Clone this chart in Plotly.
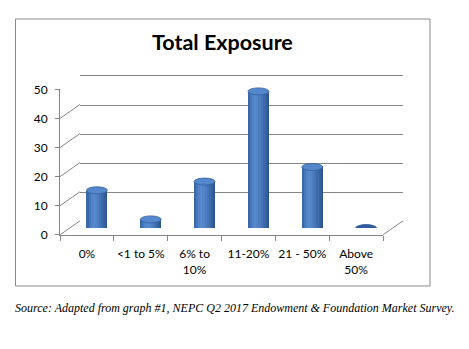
import plotly.graph_objects as go

# ---- data ----
categories = ["0%", "<1 to 5%", "6% to 10%", "11-20%", "21 - 50%", "Above 50%"]
tick_labels = ["0%", "<1 to 5%", "6% to<br>10%", "11-20%", "21 - 50%", "Above<br>50%"]
values = [13, 3, 16, 47, 21, 0]
y_ticks = [0, 10, 20, 30, 40, 50]
title_text = "Total Exposure"
source_text = "Source: Adapted from graph #1, NEPC Q2 2017 Endowment & Foundation Market Survey."

W, H = 469, 349
def px(x):
    return x / W
def py(y):
    return (H - y) / H

GRID = "#868686"
FONT = "Lato"
S = 152 / 50.0      # pixels per unit
YTOP = 51           # back wall range top (so the 50 grid line is drawn)

fig = go.Figure()

idx = list(range(len(categories)))

# invisible trace so the back-wall subplot is drawn
fig.add_trace(go.Scatter(
    x=idx, y=values, xaxis="x", yaxis="y", mode="markers",
    marker=dict(opacity=0), hoverinfo="skip", showlegend=False,
))

# cylinder body: vertical strips with a shading gradient
strip_colors = ['#3a68a8', '#4577ba', '#5083c7', '#5789cd', '#5485c9',
                '#4d7ec1', '#4675b7', '#3f6bac', '#38619f', '#305692']
bw = 0.39
n = len(strip_colors)
sw = bw / n

for k, c in enumerate(strip_colors):
    fig.add_trace(go.Bar(
        x=idx, y=values, xaxis="x2", yaxis="y2",
        offset=-bw / 2 + k * sw,
        width=sw * (1.6 if k < n - 1 else 1.0),
        marker=dict(color=c, line=dict(width=0)),
        hoverinfo="skip", showlegend=False,
    ))

# invisible trace for the front (category) axis
fig.add_trace(go.Scatter(
    x=tick_labels, y=values, xaxis="x3", yaxis="y3", mode="markers",
    marker=dict(opacity=0), hoverinfo="skip", showlegend=False,
))

shapes = []
# cylinder bottom and top ellipses
for i, v in zip(idx, values):
    shapes.append(dict(
        type="circle", xref="x2", yref="y2",
        xsizemode="pixel", xanchor=i, x0=-10.5, x1=10.5,
        ysizemode="pixel", yanchor=0, y0=-3.5, y1=3.5,
        fillcolor="#3d6cac", line=dict(width=0), layer="between",
    ))
    shapes.append(dict(
        type="circle", xref="x2", yref="y2",
        xsizemode="pixel", xanchor=i, x0=-10.5, x1=10.5,
        ysizemode="pixel", yanchor=v, y0=-3.5, y1=3.5,
        fillcolor="#5587cc" if v > 0 else "#2f5d9b",
        line=dict(width=0.8, color="#34609e"), layer="above",
    ))

# 3D connectors from front axis ticks to back wall
for t in y_ticks:
    shapes.append(dict(
        type="line", xref="paper", yref="y3",
        x0=px(60), x1=px(80),
        ysizemode="pixel", yanchor=t, y0=0, y1=14,
        line=dict(color=GRID, width=1), layer="below",
    ))
# floor right edge
shapes.append(dict(
    type="line", xref="paper", yref="y3",
    x0=px(383), x1=px(403),
    ysizemode="pixel", yanchor=0, y0=0, y1=14,
    line=dict(color=GRID, width=1), layer="below",
))
# chart border
shapes.append(dict(
    type="rect", xref="paper", yref="paper",
    x0=px(15.5), x1=px(430), y0=py(290.5), y1=py(11.5),
    line=dict(color="#8a8a8a", width=1), layer="below",
))

fig.update_layout(
    width=W, height=H,
    margin=dict(l=0, r=0, t=0, b=0),
    paper_bgcolor="white", plot_bgcolor="rgba(0,0,0,0)",
    barmode="overlay", bargap=0,
    hovermode=False,
    showlegend=False,
    font=dict(family=FONT, size=12, color="#000000"),
    shapes=shapes,
    # back wall
    xaxis=dict(domain=[px(80), px(403)], range=[-0.5, 5.5], anchor="y",
               showgrid=False, zeroline=False, showticklabels=False,
               ticks="", showline=False, fixedrange=True),
    yaxis=dict(domain=[py(223), py(223 - YTOP * S)], range=[0, YTOP], anchor="x",
               tickmode="array", tickvals=y_ticks,
               showgrid=True, gridcolor=GRID, gridwidth=1,
               zeroline=False, showticklabels=False, ticks="", showline=False,
               fixedrange=True),
    # bars (mid depth)
    xaxis2=dict(domain=[px(70), px(393)], range=[-0.5, 5.5], anchor="y2",
                visible=False, fixedrange=True),
    yaxis2=dict(domain=[py(230), py(78)], range=[0, 50], anchor="x2",
                visible=False, fixedrange=True),
    # front axes
    xaxis3=dict(domain=[px(60), px(383)], anchor="y3", type="category",
                categoryorder="array", categoryarray=tick_labels,
                range=[-0.5, 5.5], tickangle=0,
                showgrid=False, zeroline=False, showline=True,
                linecolor=GRID, linewidth=1, ticks="outside", ticklen=5,
                tickcolor=GRID, tickson="boundaries", ticklabelstandoff=8,
                tickfont=dict(family=FONT, size=12, color="#000000"),
                fixedrange=True),
    yaxis3=dict(domain=[py(237), py(85)], range=[0, 50], anchor="x3",
                tickmode="array", tickvals=y_ticks,
                showgrid=False, zeroline=False,
                showline=True, linecolor=GRID, linewidth=1,
                ticks="outside", ticklen=4, tickcolor=GRID,
                ticklabelstandoff=5,
                tickfont=dict(family=FONT, size=12, color="#000000"),
                fixedrange=True),
    annotations=[
        dict(text="<b>" + title_text + "</b>", xref="paper", yref="paper",
             x=px(222), y=py(36), xanchor="center", yanchor="middle",
             showarrow=False, font=dict(family=FONT, size=21.5, color="#000000")),
        dict(text="<i>" + source_text + "</i>", xref="paper", yref="paper",
             x=px(235), y=py(313), xanchor="center", yanchor="middle",
             showarrow=False,
             font=dict(family="Liberation Serif", size=12, color="#000000")),
    ],
)

fig.write_html("out.html")
